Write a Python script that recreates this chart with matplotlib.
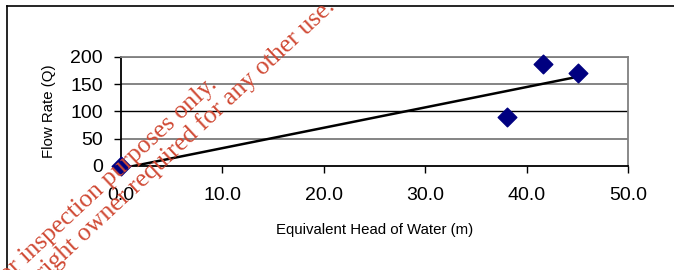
import numpy as np
import matplotlib.pyplot as plt
from matplotlib.lines import Line2D

# head of water (m) vs flow rate (Q)
head = [0.0, 38.1, 41.6, 45.1]
flow = [0, 90, 187, 171]

x_ticks = [0, 10, 20, 30, 40, 50]
y_ticks = [0, 50, 100, 150, 200]

plt.rcParams['font.family'] = ['Liberation Sans', 'DejaVu Sans']

fig = plt.figure(figsize=(6.74, 2.70), dpi=100)
ax = fig.add_axes([121 / 674, 1 - 166 / 270, (628 - 121) / 674, (166 - 57) / 270])

# linear trendline
coef = np.polyfit(head, flow, 1)
line = np.poly1d(coef)
xs = np.array([0, max(head)])
ax.plot(xs, line(xs), color='black', lw=1.8, zorder=3)

ax.scatter(head, flow, marker='D', s=90, color='#000080', zorder=4, clip_on=False)

ax.set_xlim(0, 50)
ax.set_ylim(0, 200)
ax.set_xticks(x_ticks)
ax.set_xticklabels(['%.1f' % v for v in x_ticks])
ax.set_yticks(y_ticks)
for v in y_ticks[1:]:
    ax.axhline(v, color='#707070' if v != 100 else 'black', lw=1.2 if v != 100 else 1.0, zorder=1)

ax.tick_params(labelsize=14, length=5, direction='out', width=1)
ax.tick_params(axis='x', pad=10)
ax.tick_params(axis='y', pad=8)
ax.spines['left'].set_color('black')
ax.spines['bottom'].set_color('black')
ax.spines['top'].set_color('#808080')
ax.spines['right'].set_color('#808080')
for s in ax.spines.values():
    s.set_linewidth(1.3)

ax.set_xlabel('Equivalent Head of Water (m)', fontsize=10.8, labelpad=14)
ax.set_ylabel('Flow Rate (Q)', fontsize=10.8, labelpad=10)

# outer frame (top and left only)
fig.add_artist(Line2D([7 / 674, 1], [1 - 6 / 270] * 2, color='black', lw=1.2))
fig.add_artist(Line2D([7 / 674] * 2, [0, 1 - 6 / 270], color='black', lw=1.2))

# watermark
wm = dict(color='#d04a35', fontsize=18.5, family='Liberation Serif', rotation=43,
          rotation_mode='anchor', ha='right', va='baseline')
fig.text(218 / 674, 1 - 86 / 270, 'For inspection purposes only.', **wm)
fig.text(336 / 674, 1 - 8 / 270, 'Consent of copyright owner required for any other use.', **wm)

fig.savefig('out.png', dpi=100)
